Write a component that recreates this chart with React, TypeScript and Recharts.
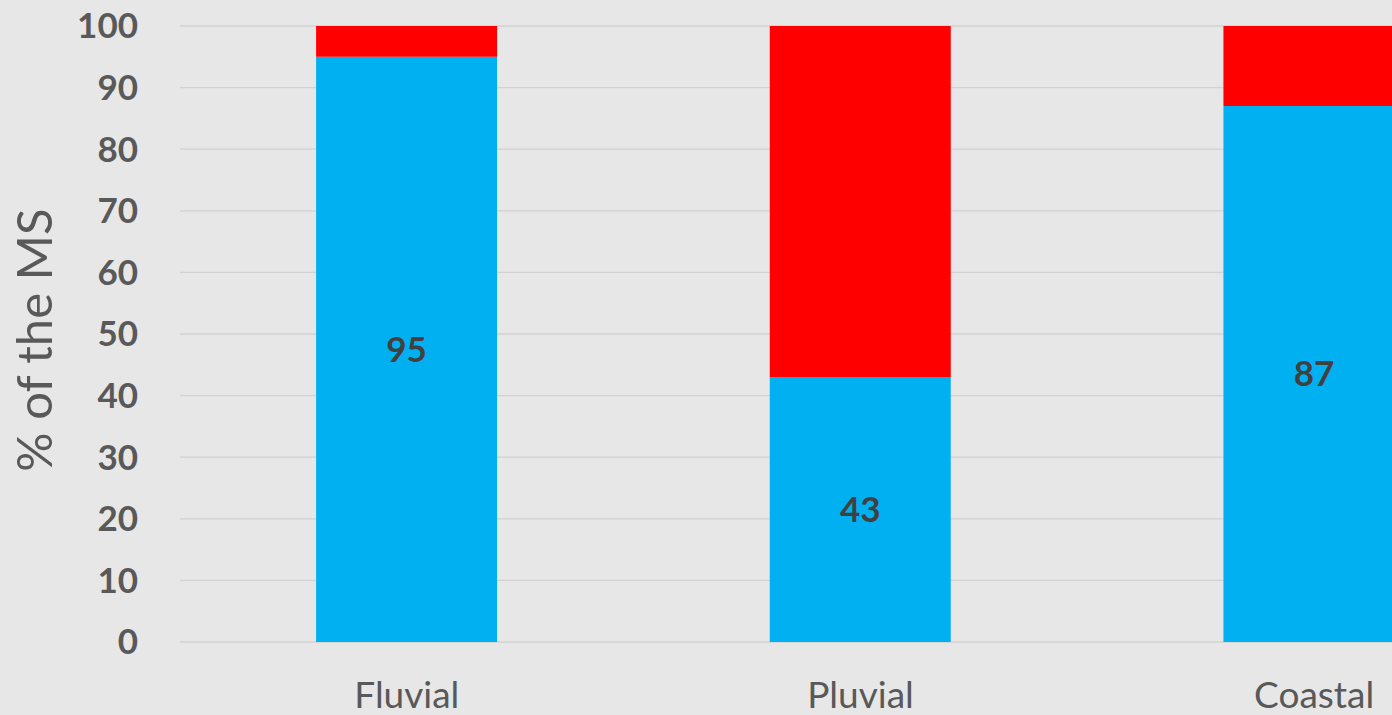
import React from 'react';
import { BarChart, Bar, XAxis, YAxis, CartesianGrid, LabelList, Label } from 'recharts';

const categories = ['Fluvial', 'Pluvial', 'Coastal'];
const yesValues = [95, 43, 87];
const noValues = [5, 57, 13];
const yTicks = [0, 10, 20, 30, 40, 50, 60, 70, 80, 90, 100];

const data = categories.map((c, i) => ({ name: c, yes: yesValues[i], no: noValues[i] }));

const FONT = 'Lato, "Open Sans", "DejaVu Sans", sans-serif';

const YLabel = () => (
  <text
    x={52}
    y={340}
    transform="rotate(-90, 52, 340)"
    textAnchor="middle"
    fill="#595959"
    fontSize={49}
    fontFamily={FONT}
  >
    % of the MS
  </text>
);

export default function App() {
  return (
    <div
      style={{
        position: 'fixed',
        left: 0,
        top: 0,
        width: 1392,
        height: 715,
        overflow: 'hidden',
        background: '#e7e7e7',
        fontFamily: FONT,
      }}
    >
      <BarChart
        width={1541}
        height={715}
        data={data}
        margin={{ top: 26, right: 0, left: 0, bottom: 0 }}
        barCategoryGap="30%"
      >
        <CartesianGrid vertical={false} stroke="#d2d2d2" strokeWidth={1.3} />
        <XAxis
          dataKey="name"
          height={73}
          axisLine={false}
          tickLine={false}
          tickSize={0}
          tickMargin={40}
          tick={{ fill: '#595959', fontSize: 37, fontFamily: FONT }}
          interval={0}
        />
        <YAxis
          width={180}
          domain={[0, 100]}
          ticks={yTicks}
          axisLine={false}
          tickLine={false}
          tickSize={0}
          tickMargin={42}
          tick={{ fill: '#595959', fontSize: 35, fontWeight: 700, fontFamily: FONT }}
          interval={0}
        >
          <Label content={<YLabel />} />
        </YAxis>
        <Bar dataKey="yes" stackId="a" fill="#00b0f0" isAnimationActive={false}>
          <LabelList
            dataKey="yes"
            position="center"
            fill="#404040"
            fontSize={35}
            fontWeight={700}
            fontFamily={FONT}
          />
        </Bar>
        <Bar dataKey="no" stackId="a" fill="#ff0000" isAnimationActive={false} />
      </BarChart>
    </div>
  );
}
